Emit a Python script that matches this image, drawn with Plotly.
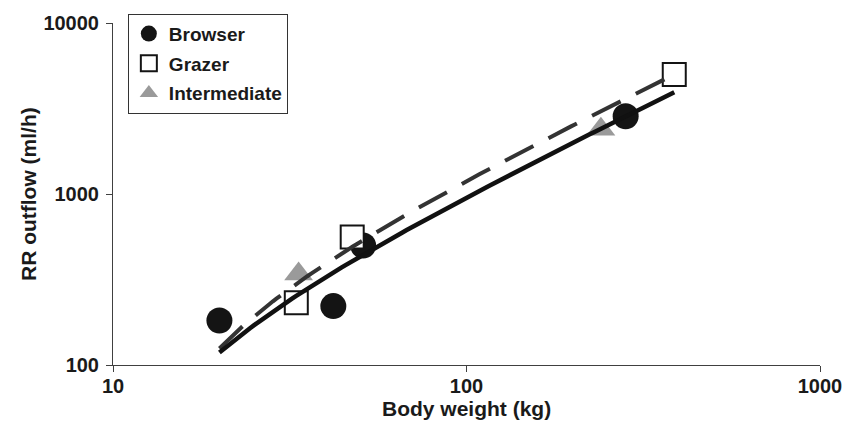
import numpy as np
import plotly.graph_objects as go

# Data (body weight kg, RR outflow ml/h)
browser_x = [20, 42, 51, 282]
browser_y = [182, 221, 500, 2850]
grazer_x = [33, 47.5, 387]
grazer_y = [231, 560, 5000]
inter_x = [33.5, 240]
inter_y = [340, 2390]

x_tickvals = [10, 100, 1000]
x_ticktext = ["10", "100", "1000"]
y_tickvals = [100, 1000, 10000]
y_ticktext = ["100", "1000", "10000"]

FONT = "Liberation Sans, Arial, sans-serif"

# Linear trendlines (least squares) drawn on log axes, over the data x-range
all_x = browser_x + grazer_x + inter_x
tx = np.geomspace(min(all_x), max(all_x), 120)
b_coef = np.polyfit(browser_x, browser_y, 1)
g_coef = np.polyfit(grazer_x, grazer_y, 1)
b_trend = np.polyval(b_coef, tx)
g_trend = np.polyval(g_coef, tx)

fig = go.Figure()
fig.add_trace(go.Scatter(
    x=browser_x, y=browser_y, mode="markers", name="Browser", legendgroup="a",
    marker=dict(symbol="circle", size=26, color="#141414", line=dict(width=0)),
))
fig.add_trace(go.Scatter(
    x=grazer_x, y=grazer_y, mode="markers", name="Grazer", legendgroup="b",
    marker=dict(symbol="square", size=23, color="white", line=dict(width=2, color="#141414")),
))
fig.add_trace(go.Scatter(
    x=inter_x, y=inter_y, mode="markers", name="Intermediate", legendgroup="c",
    marker=dict(symbol="triangle-up", size=25, color="#9a9a9a", line=dict(width=0)),
))
fig.add_trace(go.Scatter(
    x=tx, y=g_trend, mode="lines", showlegend=False, hoverinfo="skip",
    line=dict(color="#333333", width=4, dash="32px,17px"),
))
fig.add_trace(go.Scatter(
    x=tx, y=b_trend, mode="lines", showlegend=False, hoverinfo="skip",
    line=dict(color="#111111", width=4.5),
))

axis_common = dict(
    type="log", showgrid=False, zeroline=False, showline=True,
    linecolor="#404040", linewidth=1, ticks="outside", ticklen=6,
    tickcolor="#404040", tickwidth=1,
    tickfont=dict(family=FONT, size=20, color="#1a1a1a", weight="bold"),
)
fig.update_xaxes(range=[1, 3], tickvals=x_tickvals, ticktext=x_ticktext,
                 ticklabelstandoff=-3, **axis_common)
fig.update_yaxes(range=[2, 4], tickvals=y_tickvals, ticktext=y_ticktext,
                 ticklabelstandoff=3, **axis_common)

fig.update_layout(
    width=856, height=433,
    margin=dict(l=113, r=36, t=17, b=68),
    paper_bgcolor="white", plot_bgcolor="white",
    showlegend=True,
    legend=dict(
        x=0.021, y=1.027, xanchor="left", yanchor="top",
        bgcolor="white", bordercolor="#333333", borderwidth=1,
        font=dict(family=FONT, size=19, color="#1a1a1a", weight="bold"),
        traceorder="grouped", tracegroupgap=2,
    ),
    annotations=[
        dict(text="Body weight (kg)", xref="paper", yref="paper", x=0.5, y=-0.127,
             xanchor="center", yanchor="middle", showarrow=False,
             font=dict(family=FONT, size=21, color="#1a1a1a", weight="bold")),
        dict(text="RR outflow (ml/h)", xref="paper", yref="paper", x=-0.1202, y=0.5,
             xanchor="center", yanchor="middle", textangle=-90, showarrow=False,
             font=dict(family=FONT, size=21, color="#1a1a1a", weight="bold")),
    ],
)

fig.write_html("out.html", config={"displayModeBar": False},
               post_script="document.body.style.margin='0';")
